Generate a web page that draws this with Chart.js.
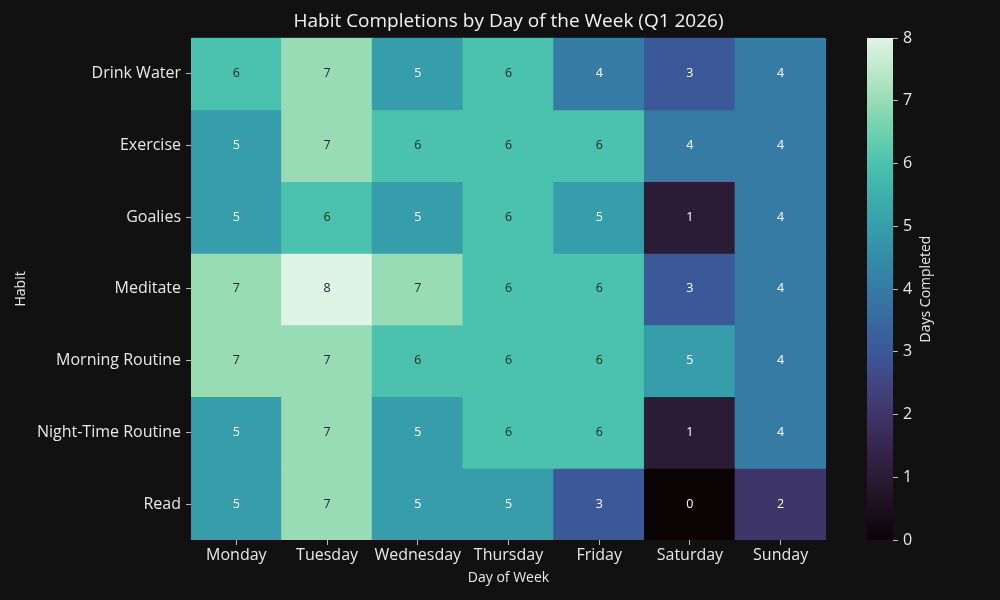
<!DOCTYPE html>
<html>
<head>
<meta charset="utf-8">
<script src="https://cdn.jsdelivr.net/npm/chart.js@4.4.1/dist/chart.umd.min.js"></script>
<style>
html, body { margin: 0; padding: 0; background: #111111; }
#wrap { position: relative; width: 1000px; height: 600px; }
#heat { position: absolute; left: 0; top: 0; }
#cbar { position: absolute; left: 850px; top: 0; }
</style>
</head>
<body>
<div id="wrap">
  <canvas id="heat" width="1000" height="600"></canvas>
  <canvas id="cbar" width="150" height="600"></canvas>
</div>
<script>
const days = ['Monday', 'Tuesday', 'Wednesday', 'Thursday', 'Friday', 'Saturday', 'Sunday'];
const habits = ['Drink Water', 'Exercise', 'Goalies', 'Meditate', 'Morning Routine', 'Night-Time Routine', 'Read'];

// days completed, one row per habit (Mon..Sun)
const drinkWater = [6, 7, 5, 6, 4, 3, 4];
const exercise   = [5, 7, 6, 6, 6, 4, 4];
const goalies    = [5, 6, 5, 6, 5, 1, 4];
const meditate   = [7, 8, 7, 6, 6, 3, 4];
const morning    = [7, 7, 6, 6, 6, 5, 4];
const nightTime  = [5, 7, 5, 6, 6, 1, 4];
const read       = [5, 7, 5, 5, 3, 0, 2];
const completions = [drinkWater, exercise, goalies, meditate, morning, nightTime, read];

const colorTicks = [0, 1, 2, 3, 4, 5, 6, 7, 8];

// mako-like colormap, sampled every half step from 0 to 8
const makoColors = ['#0b0405', '#1a0f1c', '#2b1c35', '#35264f', '#3e3568', '#414582', '#3b5899', '#3869a0',
  '#357ba3', '#348da7', '#359eaa', '#3cb0ab', '#4bc2ad', '#6dd1b0', '#98dcb5', '#bde9c9', '#def5e5'];

function hexToRgb(h) {
  return [parseInt(h.slice(1, 3), 16), parseInt(h.slice(3, 5), 16), parseInt(h.slice(5, 7), 16)];
}
function colorAt(v) {
  const t = Math.max(0, Math.min(8, v)) * 2;
  const i = Math.min(Math.floor(t), makoColors.length - 2);
  const f = t - i;
  const a = hexToRgb(makoColors[i]), b = hexToRgb(makoColors[i + 1]);
  const c = a.map((x, k) => Math.round(x + (b[k] - x) * f));
  return 'rgb(' + c.join(',') + ')';
}

const FONT = '"Open Sans", "DejaVu Sans", sans-serif';
const TEXT = '#e8e8e8';
const TICKC = '#bbbbbb';
Chart.defaults.font.family = FONT;
Chart.defaults.color = TEXT;

const cellLabels = {
  id: 'cellLabels',
  afterDatasetsDraw(chart) {
    const ctx = chart.ctx;
    ctx.save();
    ctx.font = '12.5px ' + FONT;
    ctx.textAlign = 'center';
    ctx.textBaseline = 'middle';
    chart.data.datasets.forEach((ds, i) => {
      chart.getDatasetMeta(i).data.forEach((bar, j) => {
        const v = completions[i][j];
        const p = bar.getCenterPoint();
        ctx.fillStyle = v >= 6 ? '#262626' : '#ffffff';
        ctx.fillText(String(v), p.x, p.y);
      });
    });
    ctx.restore();
  }
};

new Chart(document.getElementById('heat'), {
  type: 'bar',
  data: {
    labels: days,
    datasets: habits.map((h, i) => ({
      label: h,
      data: days.map(() => [i, i + 1]),
      backgroundColor: completions[i].map(v => colorAt(v)),
      borderWidth: 0,
      borderSkipped: false,
      inflateAmount: 0.6,
      grouped: false,
      categoryPercentage: 1,
      barPercentage: 1
    }))
  },
  options: {
    responsive: false,
    animation: false,
    layout: { padding: { left: 0, right: 174, top: 0, bottom: 0 } },
    plugins: {
      legend: { display: false },
      tooltip: { enabled: false },
      title: {
        display: true,
        text: 'Habit Completions by Day of the Week (Q1 2026)',
        color: '#f2f2f2',
        fullSize: false,
        font: { size: 19, weight: 'normal' },
        padding: { top: 10, bottom: 5 }
      }
    },
    scales: {
      x: {
        type: 'category',
        offset: true,
        grid: { display: true, drawOnChartArea: false, offset: false, tickLength: 5, color: TICKC },
        border: { display: false },
        ticks: { color: TEXT, font: { size: 16 }, padding: 1, maxRotation: 0, autoSkip: false },
        title: { display: true, text: 'Day of Week', color: TEXT, font: { size: 14 }, padding: { top: 14, bottom: 14 } },
        afterFit: s => { s.height = 60; }
      },
      y: {
        type: 'linear',
        min: 0,
        max: 7,
        reverse: true,
        afterBuildTicks: s => { s.ticks = habits.map((h, i) => ({ value: i + 0.5 })); },
        grid: { display: true, drawOnChartArea: false, tickLength: 5, color: TICKC },
        border: { display: false },
        ticks: { color: TEXT, font: { size: 16 }, padding: 5, callback: (v, idx) => habits[idx] },
        title: { display: true, text: 'Habit', color: TEXT, font: { size: 14 }, padding: { top: 13, bottom: 13 } },
        afterFit: s => { s.width = 191; }
      }
    }
  },
  plugins: [cellLabels]
});

const gradientBar = {
  id: 'gradientBar',
  afterDraw(chart) {
    const { ctx, chartArea } = chart;
    const y = chart.scales.y;
    const g = ctx.createLinearGradient(0, y.getPixelForValue(0), 0, y.getPixelForValue(8));
    makoColors.forEach((c, k) => g.addColorStop(k / (makoColors.length - 1), c));
    ctx.save();
    ctx.fillStyle = g;
    ctx.fillRect(chartArea.left, chartArea.top, chartArea.right - chartArea.left, chartArea.bottom - chartArea.top);
    ctx.translate(76, (chartArea.top + chartArea.bottom) / 2);
    ctx.rotate(-Math.PI / 2);
    ctx.fillStyle = TEXT;
    ctx.font = '14px ' + FONT;
    ctx.textAlign = 'center';
    ctx.textBaseline = 'middle';
    ctx.fillText('Days Completed', 0, 0);
    ctx.restore();
  }
};

new Chart(document.getElementById('cbar'), {
  type: 'bar',
  data: { labels: [''], datasets: [] },
  options: {
    responsive: false,
    animation: false,
    layout: { padding: { left: 17, right: 0, top: 38, bottom: 60 } },
    plugins: { legend: { display: false }, tooltip: { enabled: false } },
    scales: {
      x: { display: false },
      y: {
        position: 'right',
        min: 0,
        max: 8,
        afterBuildTicks: s => { s.ticks = colorTicks.map(v => ({ value: v })); },
        grid: { display: true, drawOnChartArea: false, tickLength: 5, color: TICKC },
        border: { display: false },
        ticks: { color: TEXT, font: { size: 16 }, padding: 5 },
        afterFit: s => { s.width = 107; }
      }
    }
  },
  plugins: [gradientBar]
});
</script>
</body>
</html>
